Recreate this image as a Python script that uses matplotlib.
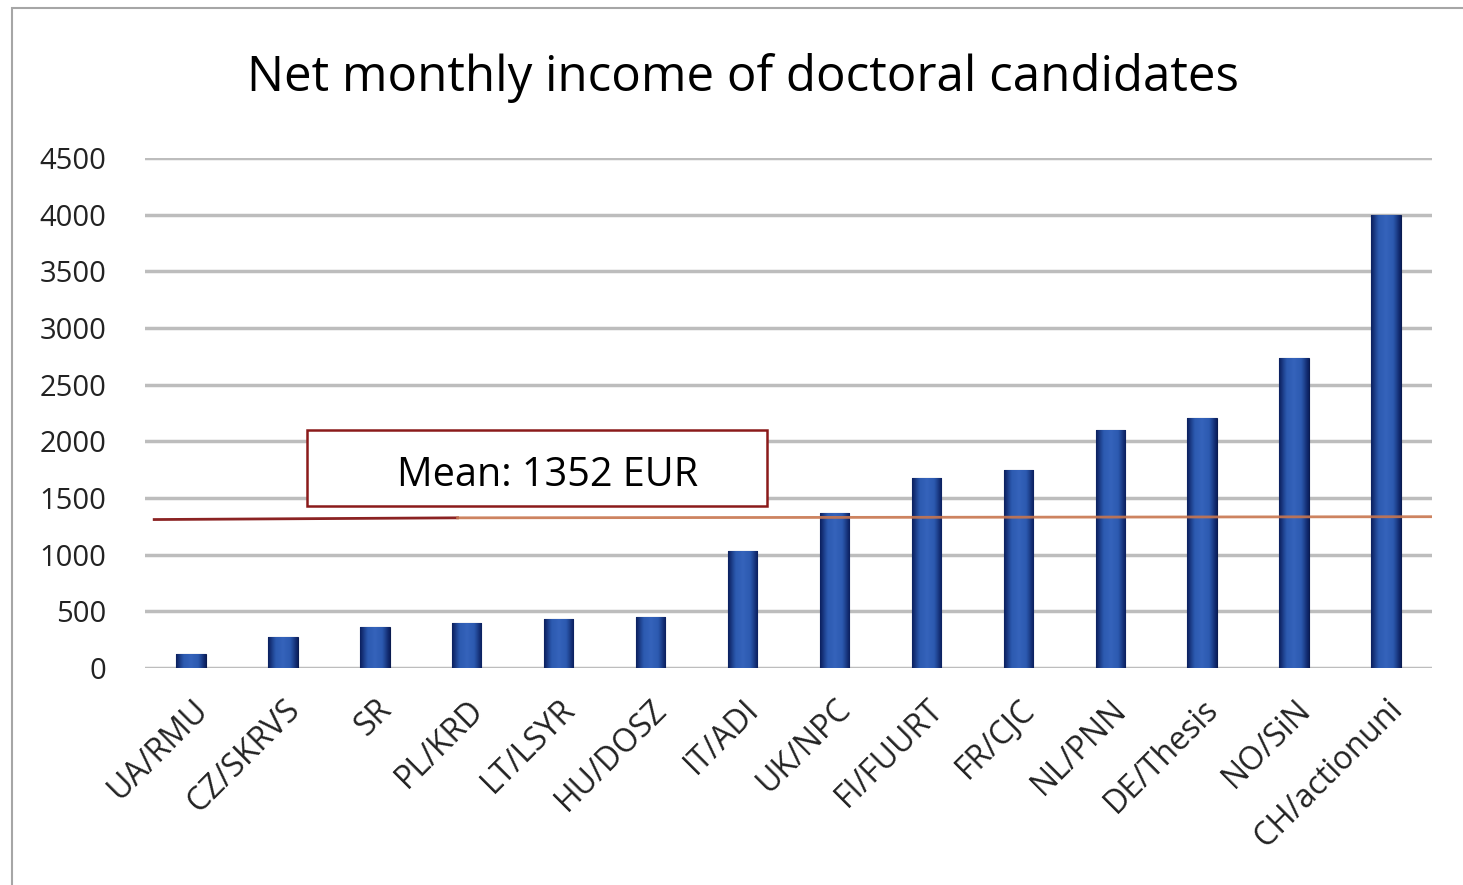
import matplotlib
matplotlib.use("Agg")
import matplotlib.pyplot as plt
import numpy as np
from matplotlib.patches import Rectangle
from matplotlib.colors import LinearSegmentedColormap

categories = ["UA/RMU", "CZ/SKRVS", "SR", "PL/KRD", "LT/LSYR", "HU/DOSZ", "IT/ADI",
              "UK/NPC", "FI/FUURT", "FR/CJC", "NL/PNN", "DE/Thesis", "NO/SiN", "CH/actionuni"]
income = [120, 270, 360, 400, 430, 450, 1035, 1370, 1675, 1745, 2100, 2210, 2735, 4000]
yticks = [0, 500, 1000, 1500, 2000, 2500, 3000, 3500, 4000, 4500]
mean_label = "Mean: 1352 EUR"
mean_line_left = 1310
mean_line_mid = 1325
mean_line_right = 1335

plt.rcParams['font.family'] = ['Open Sans', 'DejaVu Sans']

fig = plt.figure(figsize=(14.63, 8.85), dpi=100)
W, H = 1463, 885
ax = fig.add_axes([145 / W, 1 - 668 / H, (1432 - 145) / W, (668 - 158) / H])

x = np.arange(len(categories))
bars = ax.bar(x, income, width=0.32, color="#1f4596", edgecolor="none", zorder=3)

# gradient fill inside each bar
grad = np.linspace(0, 1, 64)
prof = 1 - np.abs(grad - 0.5) * 2
cmap = LinearSegmentedColormap.from_list("b", ["#0b1f5e", "#2c5ab0", "#3563bb"])
for b in bars:
    x0, y0 = b.get_x(), b.get_y()
    w, h = b.get_width(), b.get_height()
    im = ax.imshow(prof[np.newaxis, :], extent=[x0, x0 + w, y0, y0 + h], aspect="auto",
                   cmap=cmap, vmin=0, vmax=1, zorder=3, interpolation="bicubic")
    im.set_clip_path(b)
    b.set_facecolor("none")
    b.set_edgecolor("#0a1b50")
    b.set_linewidth(0.8)

ax.set_xlim(-0.5, len(categories) - 0.5)
ax.set_ylim(0, 4500)
ax.set_yticks(yticks)
ax.set_yticklabels([str(v) for v in yticks], fontsize=21, color="#222222")
ax.set_xticks(x)
ax.set_xticklabels(categories, rotation=45, ha="right", rotation_mode="anchor",
                   fontsize=23, color="#222222")
ax.tick_params(axis="y", length=0, pad=28)
ax.tick_params(axis="x", length=0, pad=18)
ax.grid(axis="y", color="#bdbdbd", linewidth=2.5, zorder=1)
ax.set_axisbelow(True)
for s in ax.spines.values():
    s.set_visible(False)
ax.set_facecolor("none")

# mean line (two segments as in reference)
ax.plot([-0.4, 2.9], [mean_line_left, mean_line_mid], color="#8b2323", linewidth=2, zorder=4)
ax.plot([2.9, 13.5], [mean_line_mid, mean_line_right], color="#c8764f", linewidth=2, zorder=4, alpha=0.9)

# mean box
ax.add_patch(Rectangle((1.26, 1430), 6.266 - 1.26, 2100 - 1430, facecolor="white",
                       edgecolor="#8b1a1a", linewidth=1.8, zorder=5))
ax.text(548 / 91.93 - 145 / 91.93 - 0.5, 1700, mean_label, ha="center", va="center", fontsize=28.5,
        color="black", zorder=6)

fig.text(743 / W, 1 - 78 / H, "Net monthly income of doctoral candidates", ha="center",
         va="center", fontsize=35.5, color="black")

# outer chart border
fig.patches.append(Rectangle((12 / W, -0.05), 1.2, 1 - 8 / H + 0.05, transform=fig.transFigure,
                             facecolor="none", edgecolor="#a6a6a6", linewidth=1.5))

fig.savefig("out.png", dpi=100, facecolor="white")
